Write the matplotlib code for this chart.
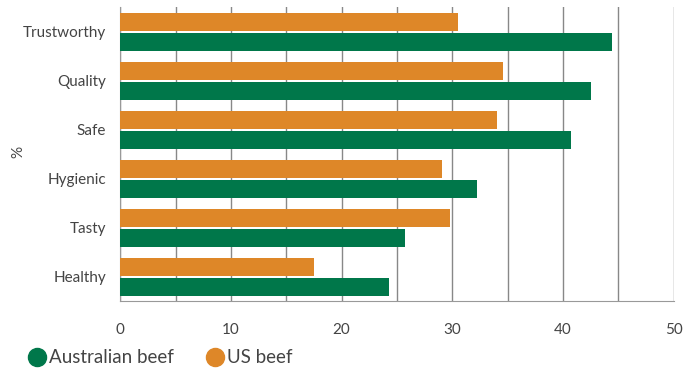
import numpy as np
import matplotlib.pyplot as plt
from matplotlib.lines import Line2D

categories = ['Trustworthy', 'Quality', 'Safe', 'Hygienic', 'Tasty', 'Healthy']
australian_beef = [44.4, 42.5, 40.7, 32.2, 25.7, 24.3]
us_beef = [30.5, 34.6, 34.0, 29.1, 29.8, 17.5]

green = '#00774A'
orange = '#DE8728'
text_col = '#444444'

plt.rcParams['font.family'] = ['Lato', 'DejaVu Sans']

fig = plt.figure(figsize=(6.99, 3.74), dpi=100)
ax = fig.add_axes([0.172, 0.195, 0.792, 0.785])

y = np.arange(len(categories))[::-1]
h = 0.37
ax.barh(y + h / 2 + 0.02, us_beef, height=h, color=orange, zorder=3)
ax.barh(y - h / 2 - 0.02, australian_beef, height=h, color=green, zorder=3)

ax.set_xlim(0, 50)
ax.set_ylim(-0.5, len(categories) - 0.5)
ax.set_xticks(np.arange(0, 51, 10))
ax.set_xticks(np.arange(0, 51, 5), minor=True)
ax.grid(True, axis='x', which='both', color='#888888', linewidth=1, zorder=0)
ax.set_yticks(y)
ax.set_yticklabels(categories)

for s in ['top', 'right']:
    ax.spines[s].set_visible(False)
for s in ['left', 'bottom']:
    ax.spines[s].set_color('#999999')
ax.tick_params(axis='both', which='both', length=0, colors=text_col, labelsize=11)
ax.tick_params(axis='x', pad=16)
ax.tick_params(axis='y', pad=10)

# '%' label on the left
fig.text(18 / 699, 1 - 152 / 374, '%', rotation=90, color=text_col, fontsize=11,
         ha='center', va='center')

handles = [
    Line2D([], [], marker='o', linestyle='', markersize=13, color=green, label='Australian beef'),
    Line2D([], [], marker='o', linestyle='', markersize=13, color=orange, label='US beef'),
]
leg = fig.legend(handles=handles, loc='lower left', bbox_to_anchor=(0.012, -0.025), ncol=2,
                 frameon=False, fontsize=13.5, handletextpad=0.05, columnspacing=1.6,
                 handlelength=1.2)
for t in leg.get_texts():
    t.set_color(text_col)

fig.savefig('out.png', dpi=100)
